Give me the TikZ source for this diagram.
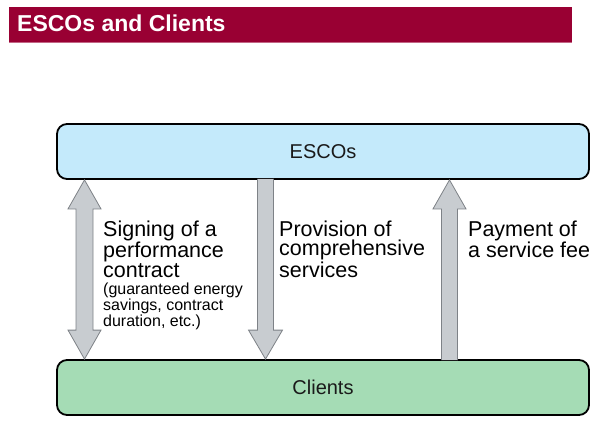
\documentclass[tikz,border=0pt]{standalone}
\usepackage{fontspec}
\setmainfont{Liberation Sans}
\usetikzlibrary{calc}
\definecolor{titlered}{HTML}{990033}
\definecolor{escoblue}{HTML}{C4EAFB}
\definecolor{clientgreen}{HTML}{A5DCB5}
\definecolor{arrowfill}{HTML}{C8CCD0}
\definecolor{arrowline}{HTML}{7E8287}
\definecolor{textdark}{HTML}{1A1A1A}
\newcommand{\linesbox}[1]{\vtop{\halign{##\hfil\cr#1\crcr}}}
\tikzset{
  partybox/.style={draw=black, line width=1.8pt, rounded corners=10pt,
    minimum width=532pt, minimum height=55pt, inner sep=0pt,
    font=\fontsize{20}{22}\selectfont, text=textdark},
  fatarrow/.style={fill=arrowfill, draw=arrowline, line width=0.8pt, line join=miter},
  biglabel/.style={anchor=base west, inner sep=0pt,
    font=\fontsize{21.5}{20}\selectfont, text=black},
  smalllabel/.style={anchor=base west, inner sep=0pt,
    font=\fontsize{16}{16}\selectfont, text=black}
}
\begin{document}
\begin{tikzpicture}[x=1pt,y=-1pt]
\useasboundingbox (0,0) rectangle (600,425);
% title bar
\fill[titlered] (9,7) rectangle (572,42);
\draw[titlered!60!white, line width=0.8pt] (9,42) -- (572,42);
\node[anchor=base west, inner sep=0pt, text=white,
  font=\fontsize{23}{25}\selectfont\bfseries] (title) at (17,32) {ESCOs and Clients};
% boxes
\node[partybox, fill=escoblue] (escos) at (323,151.5) {ESCOs};
\node[partybox, fill=clientgreen] (clients) at (323,387.5) {Clients};
% arrow x positions
\coordinate (xL) at (84.5,0);
\coordinate (xM) at (265.5,0);
\coordinate (xR) at (449.5,0);
\coordinate (Ltop) at (escos.south -| xL);
\coordinate (Lbot) at (clients.north -| xL);
\coordinate (Mtop) at (escos.south -| xM);
\coordinate (Mbot) at (clients.north -| xM);
\coordinate (Rtop) at (escos.south -| xR);
\coordinate (Rbot) at (clients.north -| xR);
% left double arrow
\draw[fatarrow] (Ltop) -- ++(16.5,29) -- ++(-8,0)
  -- ($(Lbot)+(8.5,-29)$) -- ++(8,0) -- (Lbot) -- ++(-16.5,-29) -- ++(8,0)
  -- ($(Ltop)+(-8.5,29)$) -- ++(-8,0) -- cycle;
% middle down arrow
\draw[fatarrow] ($(Mtop)+(-8,-1)$) -- ($(Mbot)+(-8,-29)$) -- ++(-9,0) -- (Mbot)
  -- ++(17,-29) -- ++(-9,0) -- ($(Mtop)+(8,-1)$);
% right up arrow
\draw[fatarrow] ($(Rbot)+(-8,1)$) -- ($(Rtop)+(-8,29)$) -- ++(-8.5,0) -- (Rtop)
  -- ++(16.5,29) -- ++(-8.5,0) -- ($(Rbot)+(8,1)$);
% labels
\node[biglabel] (signing) at (103,236) {\linesbox{Signing of a\cr performance\cr contract}};
\node[smalllabel] (signnote) at (103,294) {\linesbox{(guaranteed energy\cr savings, contract\cr duration, etc.)}};
\node[biglabel] (provision) at (279,236) {\linesbox{Provision of\cr comprehensive\cr services}};
\node[biglabel] (payment) at (468,236) {\linesbox{Payment of\cr a service fee}};
\end{tikzpicture}
\end{document}
